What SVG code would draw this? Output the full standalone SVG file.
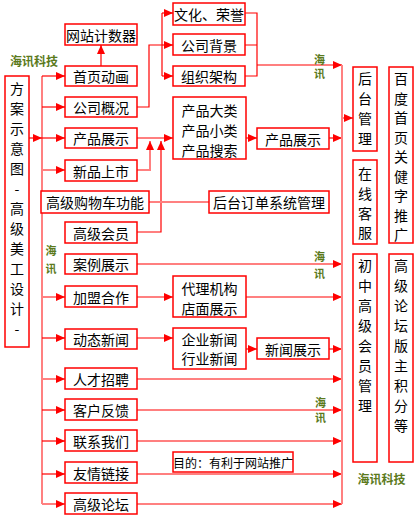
<svg xmlns="http://www.w3.org/2000/svg" width="418" height="518" viewBox="0 0 418 518">
<style>
.b{fill:#fff;stroke:#ff0000;stroke-width:1.5}
.t{font-family:"Noto Sans CJK SC","Liberation Sans",sans-serif;font-size:14px;fill:#000;text-anchor:middle;dominant-baseline:central}
.s{font-size:12px}
.w{font-family:"Noto Sans CJK SC","Liberation Sans",sans-serif;font-size:12px;font-weight:bold;fill:#5b7a1c;text-anchor:middle;dominant-baseline:central}
.v{font-family:"Noto Sans CJK SC","Liberation Sans",sans-serif;font-size:11px;font-weight:bold;fill:#5b7a1c;writing-mode:vertical-rl;text-anchor:start;dominant-baseline:central}
.c{fill:none;stroke:#ff0000;stroke-width:1.2}
.p{fill:none;stroke:#ff8080;stroke-width:2}
.ar{marker-end:url(#a)}
</style>
<defs>
<marker id="a" markerUnits="userSpaceOnUse" markerWidth="9" markerHeight="8" refX="9" refY="4" orient="auto">
<path d="M0,0L9,4L0,8z" fill="#ff0000"/>
</marker>
</defs>
<rect width="418" height="518" fill="#fff"/>
<g id="connectors">
<path class="p" d="M42,76V504"/>
<path class="c ar" d="M42,76H65"/>
<path class="c ar" d="M42,107H65"/>
<path class="c ar" d="M42,138H65"/>
<path class="p ar" d="M42,170H65"/>
<path class="p ar" d="M42,297H65"/>
<path class="c ar" d="M42,338H65"/>
<path class="p ar" d="M42,379H65"/>
<path class="c ar" d="M42,410H65"/>
<path class="c ar" d="M42,441H65"/>
<path class="c ar" d="M42,474H65"/>
<path class="p ar" d="M42,504H65"/>
<path class="c ar" d="M29,138H42"/>
<path class="c ar" d="M101,66V45"/>
<path class="c" d="M137,107H149V45H162"/>
<path class="c" d="M162,13V76"/>
<path class="c ar" d="M162,13H173"/>
<path class="c ar" d="M162,45H173"/>
<path class="c ar" d="M162,76H173"/>
<path class="c" d="M245,13H257V76H245M245,45H257"/>
<path class="c ar" d="M257,65H342"/>
<path class="c ar" d="M137,138H173"/>
<path class="p ar" d="M137,170H150V141"/>
<path class="c ar" d="M137,232H161V141"/>
<path class="c ar" d="M246,138H257"/>
<path class="c ar" d="M329,138H342"/>
<path class="p" d="M149,202H209"/>
<path class="c ar" d="M137,264H342"/>
<path class="p ar" d="M137,297H173"/>
<path class="p ar" d="M246,297H342"/>
<path class="c ar" d="M137,338H173"/>
<path class="c ar" d="M246,349H257"/>
<path class="c ar" d="M329,349H342"/>
<path class="p ar" d="M137,379H342"/>
<path class="c ar" d="M137,410H342"/>
<path class="c ar" d="M137,441H342"/>
<path class="c ar" d="M137,474H342"/>
<path class="p ar" d="M137,504H342"/>
<path class="p" d="M342,65V504"/>
<path class="p ar" d="M342,118H353"/>
</g>
<g id="n-main"><rect class="b" x="5" y="76" width="24" height="271"/>
<text class="t"><tspan x="17" y="88">方</tspan><tspan x="17" y="108">案</tspan><tspan x="17" y="128">示</tspan><tspan x="17" y="148">意</tspan><tspan x="17" y="168">图</tspan><tspan x="17" y="188">-</tspan><tspan x="17" y="208">高</tspan><tspan x="17" y="228">级</tspan><tspan x="17" y="248">美</tspan><tspan x="17" y="268">工</tspan><tspan x="17" y="288">设</tspan><tspan x="17" y="308">计</tspan><tspan x="17" y="328">-</tspan></text></g>
<g id="n-counter"><rect class="b" x="65" y="24" width="72" height="21"/><text class="t" x="101" y="34.5">网站计数器</text></g>
<g id="n-home"><rect class="b" x="65" y="66" width="72" height="20"/><text class="t" x="101" y="76">首页动画</text></g>
<g id="n-about"><rect class="b" x="65" y="97" width="72" height="20"/><text class="t" x="101" y="107">公司概况</text></g>
<g id="n-prod"><rect class="b" x="65" y="128" width="72" height="20"/><text class="t" x="101" y="138">产品展示</text></g>
<g id="n-new"><rect class="b" x="65" y="160" width="72" height="21"/><text class="t" x="101" y="170.5">新品上市</text></g>
<g id="n-cart"><rect class="b" x="41" y="191" width="108" height="22"/><text class="t" x="95" y="202">高级购物车功能</text></g>
<g id="n-vip"><rect class="b" x="65" y="222" width="72" height="21"/><text class="t" x="101" y="232.5">高级会员</text></g>
<g id="n-case"><rect class="b" x="65" y="254" width="72" height="20"/><text class="t" x="101" y="264">案例展示</text></g>
<g id="n-join"><rect class="b" x="65" y="286" width="72" height="21"/><text class="t" x="101" y="296.5">加盟合作</text></g>
<g id="n-news"><rect class="b" x="65" y="329" width="72" height="20"/><text class="t" x="101" y="339">动态新闻</text></g>
<g id="n-job"><rect class="b" x="65" y="368" width="72" height="21"/><text class="t" x="101" y="378.5">人才招聘</text></g>
<g id="n-fb"><rect class="b" x="65" y="399" width="72" height="21"/><text class="t" x="101" y="409.5">客户反馈</text></g>
<g id="n-contact"><rect class="b" x="65" y="430" width="72" height="21"/><text class="t" x="101" y="440.5">联系我们</text></g>
<g id="n-links"><rect class="b" x="65" y="462" width="72" height="21"/><text class="t" x="101" y="472.5">友情链接</text></g>
<g id="n-forum"><rect class="b" x="65" y="493" width="72" height="21"/><text class="t" x="101" y="503.5">高级论坛</text></g>
<g id="n-culture"><rect class="b" x="173" y="3" width="72" height="22"/><text class="t" x="209" y="14">文化、荣誉</text></g>
<g id="n-bg"><rect class="b" x="173" y="34" width="72" height="21"/><text class="t" x="209" y="44.5">公司背景</text></g>
<g id="n-org"><rect class="b" x="173" y="66" width="72" height="20"/><text class="t" x="209" y="76">组织架构</text></g>
<g id="n-cat"><rect class="b" x="173" y="97" width="73" height="62"/><text class="t"><tspan x="209.5" y="110">产品大类</tspan><tspan x="209.5" y="130">产品小类</tspan><tspan x="209.5" y="150">产品搜索</tspan></text></g>
<g id="n-prod2"><rect class="b" x="257" y="128" width="72" height="21"/><text class="t" x="293" y="138.5">产品展示</text></g>
<g id="n-order"><rect class="b" x="209" y="191" width="120" height="22"/><text class="t" x="269" y="202">后台订单系统管理</text></g>
<g id="n-agent"><rect class="b" x="173" y="276" width="73" height="41"/><text class="t"><tspan x="209.5" y="288">代理机构</tspan><tspan x="209.5" y="308">店面展示</tspan></text></g>
<g id="n-cnews"><rect class="b" x="173" y="328" width="73" height="41"/><text class="t"><tspan x="209.5" y="339">企业新闻</tspan><tspan x="209.5" y="358">行业新闻</tspan></text></g>
<g id="n-news2"><rect class="b" x="257" y="338" width="72" height="21"/><text class="t" x="293" y="348.5">新闻展示</text></g>
<g id="n-goal"><rect class="b" x="173" y="452" width="120" height="20"/><text class="t s" x="233" y="462">目的：有利于网站推广</text></g>
<g id="n-admin"><rect class="b" x="353" y="67" width="24" height="84"/><text class="t"><tspan x="365" y="78">后</tspan><tspan x="365" y="98">台</tspan><tspan x="365" y="118">管</tspan><tspan x="365" y="138">理</tspan></text></g>
<g id="n-baidu"><rect class="b" x="389" y="67" width="24" height="176"/><text class="t"><tspan x="401" y="78">百</tspan><tspan x="401" y="97.5">度</tspan><tspan x="401" y="117">首</tspan><tspan x="401" y="136.5">页</tspan><tspan x="401" y="156">关</tspan><tspan x="401" y="175.5">健</tspan><tspan x="401" y="195">字</tspan><tspan x="401" y="214.5">推</tspan><tspan x="401" y="234">广</tspan></text></g>
<g id="n-service"><rect class="b" x="353" y="160" width="24" height="84"/><text class="t"><tspan x="365" y="173">在</tspan><tspan x="365" y="193">线</tspan><tspan x="365" y="213">客</tspan><tspan x="365" y="232">服</tspan></text></g>
<g id="n-member"><rect class="b" x="353" y="254" width="24" height="208"/><text class="t"><tspan x="365" y="265">初</tspan><tspan x="365" y="285">中</tspan><tspan x="365" y="305">高</tspan><tspan x="365" y="325">级</tspan><tspan x="365" y="345">会</tspan><tspan x="365" y="365">员</tspan><tspan x="365" y="385">管</tspan><tspan x="365" y="405">理</tspan></text></g>
<g id="n-mod"><rect class="b" x="389" y="254" width="24" height="208"/><text class="t"><tspan x="401" y="265">高</tspan><tspan x="401" y="285">级</tspan><tspan x="401" y="305">论</tspan><tspan x="401" y="325">坛</tspan><tspan x="401" y="345">版</tspan><tspan x="401" y="365">主</tspan><tspan x="401" y="385">积</tspan><tspan x="401" y="405">分</tspan><tspan x="401" y="425">等</tspan></text></g>
<g id="watermarks">
<text class="w" x="34" y="60">海讯科技</text>
<text class="v" x="319.5" y="54.5" letter-spacing="2.5">海讯</text>
<text class="v" x="51" y="245.5" letter-spacing="7">海讯</text>
<text class="v" x="319.5" y="251.5" letter-spacing="6">海讯</text>
<text class="v" x="320.5" y="397.5" letter-spacing="4">海讯</text>
<text class="w" x="381.5" y="478">海讯科技</text>
</g>
</svg>
